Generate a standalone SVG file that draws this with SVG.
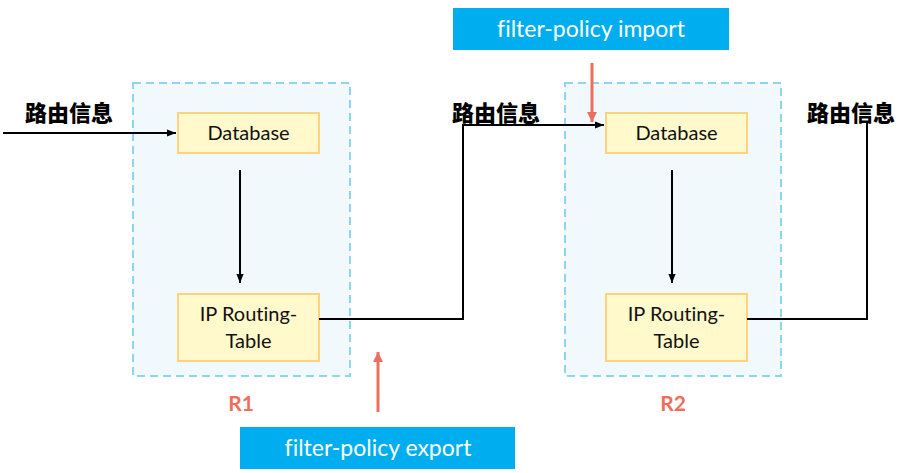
<svg xmlns="http://www.w3.org/2000/svg" width="904" height="473" viewBox="0 0 904 473">
<defs>
<marker id="ah" viewBox="0 0 10 10" refX="10" refY="5" markerWidth="9" markerHeight="9" markerUnits="userSpaceOnUse" orient="auto"><path d="M0,1 L10,5 L0,9 z" fill="#000"/></marker>
<marker id="rh" viewBox="0 0 10 10" refX="10" refY="5" markerWidth="10" markerHeight="10" markerUnits="userSpaceOnUse" orient="auto"><path d="M0,0 L10,5 L0,10 z" fill="#EE6E5E"/></marker>
<style>
text{font-variant-ligatures:none;font-feature-settings:"liga" 0}
.cont{fill:#F2F9FD;stroke:#8ED5F2;stroke-width:2;stroke-dasharray:8 5}
.node{fill:#FFF9CC;stroke:#FFD27E;stroke-width:2}
.nt{font-family:Lato,"Open Sans",sans-serif;font-size:20px;fill:#111;text-anchor:middle}
.cn{font-family:"Noto Sans CJK SC",sans-serif;font-weight:900;font-size:22px;fill:#000;text-anchor:middle}
.rl{font-family:Lato,"Open Sans",sans-serif;font-weight:bold;font-size:21px;fill:#EE6E5E;text-anchor:middle}
.bb{fill:#00AEEF}
.bt{font-family:Lato,"Open Sans",sans-serif;font-size:23px;fill:#fff;text-anchor:middle}
.ln{fill:none;stroke:#000;stroke-width:2}
.rd{fill:none;stroke:#EE6E5E;stroke-width:3}
</style>
</defs>
<g id="R1">
<rect class="cont" x="133" y="83" width="217" height="293"/>
<text class="rl" x="241" y="411">R1</text>
</g>
<g id="R2">
<rect class="cont" x="565" y="83" width="216" height="293"/>
<text class="rl" x="673" y="411">R2</text>
</g>
<g id="db1"><rect class="node" x="178" y="113" width="141" height="40"/><text class="nt" x="248.5" y="140">Database</text></g>
<g id="ip1"><rect class="node" x="178" y="294" width="141" height="67"/><text class="nt" x="248.5" y="321">IP Routing-</text><text class="nt" x="248.5" y="348">Table</text></g>
<g id="db2"><rect class="node" x="606" y="113" width="141" height="40"/><text class="nt" x="676.5" y="140">Database</text></g>
<g id="ip2"><rect class="node" x="606" y="294" width="141" height="67"/><text class="nt" x="676.5" y="321">IP Routing-</text><text class="nt" x="676.5" y="348">Table</text></g>
<g id="import"><rect class="bb" x="453" y="8" width="276" height="42"/><text class="bt" x="591" y="37">filter-policy import</text></g>
<g id="export"><rect class="bb" x="240" y="427" width="275" height="42"/><text class="bt" x="378" y="456">filter-policy export</text></g>
<g id="labels">
<text class="cn" x="69" y="121">路由信息</text>
<text class="cn" x="496" y="121">路由信息</text>
<text class="cn" x="851" y="121">路由信息</text>
</g>
<g id="connectors">
<path class="ln" d="M3,133 H176" marker-end="url(#ah)"/>
<path class="ln" d="M240,170 V283" marker-end="url(#ah)"/>
<path class="ln" d="M672,170 V283" marker-end="url(#ah)"/>
<path class="ln" d="M319,319 H463 V125 H604" marker-end="url(#ah)"/>
<path class="ln" d="M747,319 H867 V121"/>
<path class="rd" d="M592,63 V122" marker-end="url(#rh)"/>
<path class="rd" d="M378,412 V352" marker-end="url(#rh)"/>
</g>
</svg>
